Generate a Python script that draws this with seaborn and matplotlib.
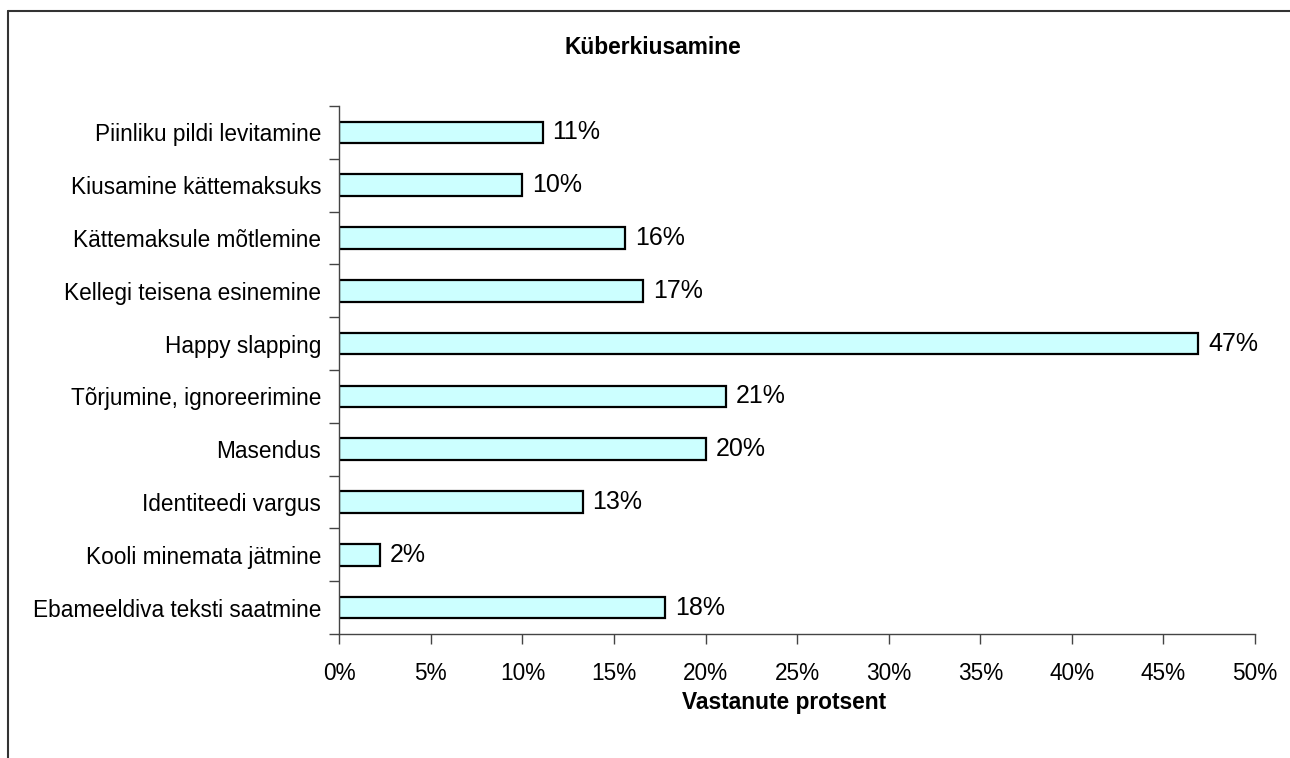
import matplotlib
matplotlib.use("Agg")
import matplotlib.pyplot as plt
import seaborn as sns
import pandas as pd
from matplotlib.lines import Line2D
from matplotlib.ticker import FixedLocator

categories = [
    "Piinliku pildi levitamine",
    "Kiusamine kättemaksuks",
    "Kättemaksule mõtlemine",
    "Kellegi teisena esinemine",
    "Happy slapping",
    "Tõrjumine, ignoreerimine",
    "Masendus",
    "Identiteedi vargus",
    "Kooli minemata jätmine",
    "Ebameeldiva teksti saatmine",
]
values = [11.1, 10.0, 15.6, 16.6, 46.9, 21.1, 20.0, 13.3, 2.2, 17.8]
value_labels = ["11%", "10%", "16%", "17%", "47%", "21%", "20%", "13%", "2%", "18%"]
x_ticks = [0, 5, 10, 15, 20, 25, 30, 35, 40, 45, 50]
x_tick_labels = [f"{t}%" for t in x_ticks]
title = "Küberkiusamine"
x_label = "Vastanute protsent"

sns.set_theme(style="white")
plt.rcParams["font.family"] = ["Liberation Sans", "DejaVu Sans"]
plt.rcParams["text.color"] = "black"

df = pd.DataFrame({"kategooria": categories, "protsent": values})

fig = plt.figure(figsize=(12.9, 7.58), dpi=100)
ax = fig.add_axes([0.263, 0.1636, 0.7099, 0.6966])

sns.barplot(data=df, y="kategooria", x="protsent", order=categories,
            color="#CCFFFF", edgecolor="black", linewidth=1.6,
            width=0.41, saturation=1, ax=ax)

ax.set_xlim(0, 50)
ax.set_ylim(len(categories) - 0.5, -0.5)
ax.set_xticks(x_ticks)
ax.set_xticklabels(x_tick_labels, fontsize=16.3, color="black")
ax.set_yticks(range(len(categories)))
ax.set_yticklabels(categories, fontsize=16.3, color="black")
ax.yaxis.set_minor_locator(FixedLocator([i - 0.5 for i in range(len(categories) + 1)]))
ax.tick_params(axis="y", which="major", length=0, pad=13)
ax.tick_params(axis="y", which="minor", length=7, width=1, color="#444444", direction="out", left=True)
ax.tick_params(axis="x", which="major", length=7, width=1, color="#444444", direction="out",
               pad=13, bottom=True)
ax.set_xlabel("")
ax.set_ylabel("")

for s in ["top", "right"]:
    ax.spines[s].set_visible(False)
for s in ["left", "bottom"]:
    ax.spines[s].set_color("#444444")
    ax.spines[s].set_linewidth(1)

for i, (v, lab) in enumerate(zip(values, value_labels)):
    ax.annotate(lab, xy=(v, i), xytext=(7, 0), textcoords="offset points",
                va="center", ha="left", fontsize=18, color="black")

fig.text(0.506, 1 - 47 / 758, title, ha="center", va="center", fontsize=16.4,
         fontweight="bold", color="black")
fig.text(0.608, 1 - 703 / 758, x_label, ha="center", va="center", fontsize=16.4,
         fontweight="bold", color="black")

# outer frame (left and top only visible)
fig.add_artist(Line2D([8 / 1290, 8 / 1290], [0, 1 - 11 / 758], transform=fig.transFigure,
                      color="#333333", linewidth=1.5))
fig.add_artist(Line2D([8 / 1290, 1], [1 - 11 / 758, 1 - 11 / 758], transform=fig.transFigure,
                      color="#333333", linewidth=1.5))

fig.savefig("out.png", dpi=100)
